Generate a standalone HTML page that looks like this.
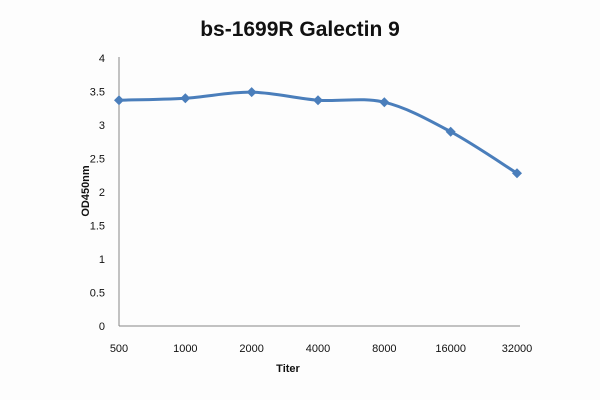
<!DOCTYPE html>
<html><head><meta charset="utf-8"><style>
html,body{margin:0;padding:0;background:#fdfdfd;}
svg{display:block;font-family:"Liberation Sans",Arial,sans-serif;}
</style></head><body>
<svg id="chart" width="600" height="400" viewBox="0 0 600 400">
<rect width="600" height="400" fill="#fdfdfd"/>
<text x="300" y="36" text-anchor="middle" font-size="21" font-weight="bold" fill="#111">bs-1699R Galectin 9</text>
<text transform="translate(89,191) rotate(-90)" text-anchor="middle" font-size="11" font-weight="bold" fill="#111">OD450nm</text>
<text x="288" y="372" text-anchor="middle" font-size="11" font-weight="bold" fill="#111">Titer</text>
<g id="axes"></g>
<g id="series"></g>
</svg>
<script>
const categories=["500","1000","2000","4000","8000","16000","32000"];
const odValues=[3.37,3.40,3.49,3.37,3.34,2.90,2.28];
const yTicks=[0,0.5,1,1.5,2,2.5,3,3.5,4];
const NS="http://www.w3.org/2000/svg";
const x0=119,x1=517,yBase=326,yTop=58;
function xs(i){return x0+i*(x1-x0)/(categories.length-1);}
function ys(v){return yBase-(v/4)*(yBase-yTop);}
const axes=document.getElementById('axes'),series=document.getElementById('series');
function mk(t,a,p){const e=document.createElementNS(NS,t);for(const k in a)e.setAttribute(k,a[k]);p.appendChild(e);return e;}
const ya=mk('line',{x1:x0,y1:yTop-1,x2:x0,y2:yBase,stroke:'#888','stroke-width':1},axes);


const xa=mk('line',{x1:x0,y1:yBase,x2:520,y2:yBase,stroke:'#888','stroke-width':1},axes);


yTicks.forEach(v=>{const t=mk('text',{x:105,y:ys(v)+4,'text-anchor':'end','font-size':11,fill:'#111'},axes);t.textContent=String(v);

});
categories.forEach((c,i)=>{const t=mk('text',{x:xs(i),y:352,'text-anchor':'middle','font-size':11,fill:'#111'},axes);t.textContent=c;

});
const pts=odValues.map((v,i)=>[xs(i),ys(v)]);
let d='M'+pts[0][0]+','+pts[0][1];
for(let i=0;i<pts.length-1;i++){const p0=pts[Math.max(0,i-1)],p1=pts[i],p2=pts[i+1],p3=pts[Math.min(pts.length-1,i+2)];const k=1/6;
d+=' C'+(p1[0]+(p2[0]-p0[0])*k)+','+(p1[1]+(p2[1]-p0[1])*k)+' '+(p2[0]-(p3[0]-p1[0])*k)+','+(p2[1]-(p3[1]-p1[1])*k)+' '+p2[0]+','+p2[1];}
const line=mk('path',{d:d,fill:'none',stroke:'#4a7ebb','stroke-width':3,'stroke-linejoin':'round'},series);


pts.forEach(p=>{const m=mk('path',{d:`M${p[0]},${p[1]-5} L${p[0]+5},${p[1]} L${p[0]},${p[1]+5} L${p[0]-5},${p[1]} Z`,fill:'#4a7ebb'},series);

});
</script>
</body></html>
